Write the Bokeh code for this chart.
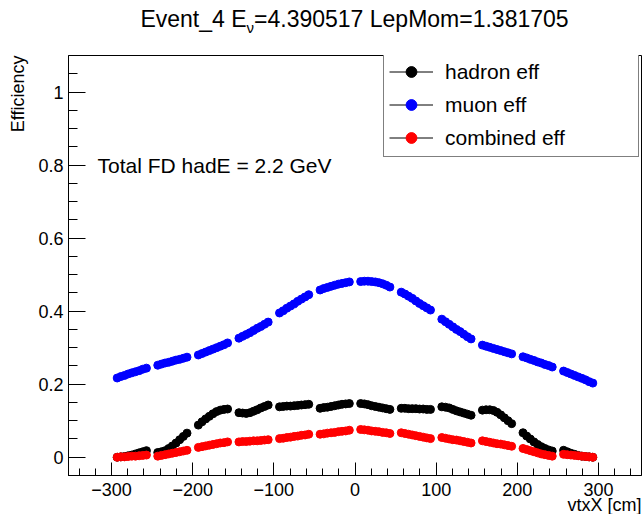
from bokeh.plotting import figure
from bokeh.layouts import column
from bokeh.models import (Div, FixedTicker, Label, Legend, LegendItem, Title)
from bokeh.embed import file_html
from bokeh.resources import INLINE

# ---- data -------------------------------------------------------------
# vertex x positions: nine sampled points inside each 50 cm slab
group_starts = [-300, -250, -200, -150, -100, -50, 0, 50, 100, 150, 200, 250]
point_offsets = [7, 11.5, 16, 20.5, 25, 29.5, 34, 38.5, 43]

muon_eff = [
    [0.217, 0.221, 0.224, 0.228, 0.231, 0.234, 0.237, 0.241, 0.244],
    [0.252, 0.255, 0.258, 0.260, 0.263, 0.266, 0.268, 0.271, 0.274],
    [0.280, 0.284, 0.288, 0.292, 0.296, 0.300, 0.304, 0.308, 0.313],
    [0.326, 0.331, 0.336, 0.341, 0.347, 0.353, 0.358, 0.364, 0.370],
    [0.395, 0.401, 0.408, 0.414, 0.420, 0.427, 0.433, 0.439, 0.445],
    [0.458, 0.462, 0.465, 0.468, 0.471, 0.474, 0.476, 0.478, 0.480],
    [0.481, 0.482, 0.482, 0.481, 0.480, 0.478, 0.475, 0.471, 0.466],
    [0.452, 0.447, 0.441, 0.435, 0.428, 0.421, 0.415, 0.409, 0.403],
    [0.378, 0.371, 0.364, 0.357, 0.350, 0.344, 0.337, 0.330, 0.324],
    [0.307, 0.304, 0.301, 0.298, 0.295, 0.292, 0.289, 0.286, 0.283],
    [0.275, 0.272, 0.268, 0.265, 0.261, 0.258, 0.254, 0.251, 0.247],
    [0.236, 0.232, 0.228, 0.224, 0.220, 0.216, 0.212, 0.207, 0.203],
]

hadron_eff = [
    [0.000, 0.001, 0.002, 0.004, 0.006, 0.009, 0.012, 0.015, 0.018],
    [0.013, 0.015, 0.018, 0.024, 0.031, 0.039, 0.048, 0.057, 0.066],
    [0.088, 0.097, 0.105, 0.112, 0.119, 0.125, 0.129, 0.131, 0.132],
    [0.122, 0.121, 0.120, 0.122, 0.126, 0.130, 0.135, 0.139, 0.143],
    [0.138, 0.139, 0.140, 0.140, 0.141, 0.142, 0.143, 0.144, 0.145],
    [0.134, 0.136, 0.137, 0.139, 0.141, 0.143, 0.145, 0.146, 0.147],
    [0.147, 0.146, 0.144, 0.141, 0.139, 0.137, 0.135, 0.133, 0.131],
    [0.134, 0.134, 0.133, 0.133, 0.133, 0.132, 0.132, 0.131, 0.131],
    [0.138, 0.137, 0.135, 0.131, 0.127, 0.124, 0.121, 0.118, 0.115],
    [0.129, 0.130, 0.130, 0.128, 0.123, 0.116, 0.108, 0.100, 0.092],
    [0.067, 0.058, 0.050, 0.042, 0.035, 0.029, 0.024, 0.020, 0.017],
    [0.019, 0.015, 0.011, 0.008, 0.005, 0.003, 0.002, 0.001, 0.000],
]

combined_eff = [
    [0.000, 0.001, 0.001, 0.002, 0.003, 0.003, 0.004, 0.005, 0.006],
    [0.003, 0.005, 0.007, 0.009, 0.011, 0.013, 0.015, 0.017, 0.019],
    [0.027, 0.029, 0.031, 0.033, 0.035, 0.037, 0.039, 0.040, 0.042],
    [0.042, 0.043, 0.043, 0.044, 0.045, 0.045, 0.046, 0.047, 0.048],
    [0.051, 0.052, 0.054, 0.055, 0.057, 0.058, 0.060, 0.061, 0.063],
    [0.063, 0.064, 0.066, 0.067, 0.068, 0.070, 0.071, 0.072, 0.074],
    [0.076, 0.075, 0.074, 0.072, 0.071, 0.070, 0.068, 0.067, 0.065],
    [0.067, 0.065, 0.063, 0.061, 0.059, 0.057, 0.055, 0.053, 0.051],
    [0.054, 0.052, 0.050, 0.048, 0.047, 0.045, 0.043, 0.041, 0.039],
    [0.045, 0.043, 0.041, 0.039, 0.037, 0.036, 0.034, 0.032, 0.030],
    [0.024, 0.021, 0.018, 0.015, 0.012, 0.009, 0.007, 0.005, 0.003],
    [0.008, 0.007, 0.006, 0.005, 0.004, 0.003, 0.002, 0.001, 0.000],
]

x_major = [-300, -200, -100, 0, 100, 200, 300]
x_minor = [-340, -320, -280, -260, -240, -220, -180, -160, -140, -120,
           -80, -60, -40, -20, 20, 40, 60, 80, 120, 140, 160, 180,
           220, 240, 260, 280, 320, 340]
x_labels = ["\u2212300", "\u2212200", "\u2212100", "0", "100", "200", "300"]
y_major = [0, 0.2, 0.4, 0.6, 0.8, 1.0]
y_minor = [-0.05, 0.05, 0.1, 0.15, 0.25, 0.3, 0.35, 0.45, 0.5, 0.55,
           0.65, 0.7, 0.75, 0.85, 0.9, 0.95, 1.05]
y_labels = ["0", "0.2", "0.4", "0.6", "0.8", "1"]

vtx_x = [s + o for s in group_starts for o in point_offsets]


def flat(groups):
    return [v for g in groups for v in g]


# ---- layout constants -------------------------------------------------
FONT = "Liberation Sans"
X0, X1 = -353, 353
Y0, Y1 = -0.05, 1.1
W = 643
HEAD = 50             # height of the title strip
H = 514 - HEAD        # figure height
L, R, T, B = 68, 2, 5, 39

# ---- title strip (HTML so the neutrino index can be a real subscript) --
title_html = (
    '<div style="width:%dpx;margin-left:%dpx;padding-top:8px;'
    'text-align:center;font-family:\'%s\';font-size:23px;line-height:23px;'
    'color:black;white-space:nowrap;">'
    'Event_4 E<span style="font-size:15px;position:relative;top:6px;">'
    '\u03bd</span>=4.390517 LepMom=1.381705</div>'
) % (W - L - R, L, FONT)
head = Div(text=title_html, width=W, height=HEAD, margin=0)

# ---- figure -----------------------------------------------------------
p = figure(width=W, height=H, x_range=(X0, X1), y_range=(Y0, Y1),
           output_backend="svg", toolbar_location=None, title=None,
           min_border_left=L, min_border_right=R,
           min_border_top=T, min_border_bottom=B, margin=0)
p.grid.visible = False
p.outline_line_color = "black"
p.outline_line_width = 1
p.background_fill_color = "white"
p.border_fill_color = "white"

# page pixel -> data helpers for the in-frame text
fw, fh = W - L - R, H - T - B


def dx(px):
    return X0 + (px - L) * (X1 - X0) / fw


def dy(py):
    return Y0 + (514 - B - py) * (Y1 - Y0) / fh


for ax in (p.xaxis[0], p.yaxis[0]):
    ax.axis_line_color = "black"
    ax.major_tick_line_color = "black"
    ax.minor_tick_line_color = "black"
    ax.major_tick_out = 0
    ax.minor_tick_out = 0
    ax.major_label_text_font = FONT
    ax.major_label_text_font_size = "18px"
    ax.major_label_text_color = "black"

p.xaxis.ticker = FixedTicker(ticks=x_major, minor_ticks=x_minor)
p.xaxis.major_label_overrides = {t: s for t, s in zip(x_major, x_labels)}
p.xaxis.major_tick_in = 13
p.xaxis.minor_tick_in = 7
p.xaxis.major_label_standoff = 7

p.yaxis.ticker = FixedTicker(ticks=y_major, minor_ticks=y_minor)
p.yaxis.major_label_overrides = {t: s for t, s in zip(y_major, y_labels)}
p.yaxis.major_tick_in = 17
p.yaxis.minor_tick_in = 9
p.yaxis.major_label_standoff = 5

# axis titles, right/top aligned as in ROOT
p.add_layout(Title(text="Efficiency", align="right", vertical_align="top",
                   text_font=FONT, text_font_size="18px",
                   text_font_style="normal", text_color="black",
                   standoff=12, offset=0), "left")
p.add_layout(Title(text="vtxX [cm]", align="right", vertical_align="top",
                   text_font=FONT, text_font_size="18px",
                   text_font_style="normal", text_color="black",
                   standoff=-7, offset=0), "below")

# ---- series -----------------------------------------------------------
series = [
    ("hadron eff", hadron_eff, "#000000"),
    ("muon eff", muon_eff, "#0000ff"),
    ("combined eff", combined_eff, "#ff0000"),
]
items = []
nan = float("nan")
for name, vals, col in series:
    p.scatter(vtx_x, flat(vals), size=8, marker="circle",
              fill_color=col, line_color=col)
    # legend keys: a thin black line with a smaller marker on it
    key_line = p.line(x=[nan, nan], y=[nan, nan], line_color="black",
                      line_width=1)
    key_dot = p.scatter(x=[nan], y=[nan], size=6, marker="circle",
                        fill_color=col, line_color=col)
    items.append(LegendItem(label=name, renderers=[key_line, key_dot]))

legend = Legend(items=items, location=(315, 318),
                label_text_font=FONT, label_text_font_size="21px",
                label_text_color="black",
                glyph_width=44, glyph_height=27, label_height=27,
                label_width=188, label_standoff=12, spacing=6,
                padding=5, margin=0,
                border_line_color="black", border_line_width=1,
                background_fill_color="white", background_fill_alpha=1)
p.add_layout(legend)

p.add_layout(Label(x=dx(97), y=dy(165), text="Total FD hadE = 2.2 GeV",
                   text_font=FONT, text_font_size="21px",
                   text_color="black", text_baseline="alphabetic"))

page = column(head, p, spacing=0, margin=0)
open("out.html", "w").write(file_html(page, INLINE))
